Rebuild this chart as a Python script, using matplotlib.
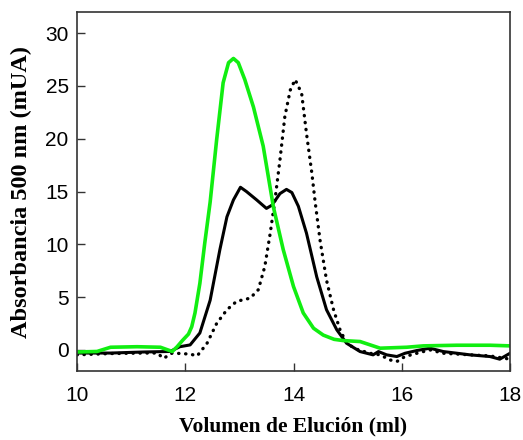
import matplotlib
matplotlib.use("Agg")
import matplotlib.pyplot as plt

# Green trace
green_x = [10.0, 10.37, 10.62, 11.11, 11.54, 11.76, 11.85, 11.95, 12.06, 12.12, 12.18, 12.27,
           12.36, 12.46, 12.58, 12.70, 12.80, 12.89, 12.98, 13.10, 13.26, 13.44, 13.63, 13.81,
           14.0, 14.18, 14.37, 14.55, 14.75, 14.92, 15.23, 15.60, 16.09, 16.40, 17.02, 17.63, 18.0]
green_y = [-0.2, -0.15, 0.25, 0.3, 0.25, -0.15, 0.3, 0.9, 1.5, 2.2, 3.5, 6.3,
           10.1, 14.0, 19.9, 25.3, 27.2, 27.6, 27.2, 25.6, 23.0, 19.3, 13.5, 9.5,
           6.0, 3.5, 2.05, 1.4, 1.0, 0.88, 0.79, 0.16, 0.25, 0.38, 0.44, 0.44, 0.38]

# Solid black trace
solid_x = [10.0, 10.62, 11.23, 11.72, 11.90, 12.09, 12.27, 12.46, 12.64, 12.77, 12.89, 13.02,
           13.13, 13.32, 13.50, 13.60, 13.75, 13.87, 13.97, 14.09, 14.24, 14.43, 14.61, 14.80,
           14.98, 15.23, 15.47, 15.57, 15.72, 15.91, 16.06, 16.28, 16.52, 16.77, 17.26, 17.63,
           17.81, 18.0]
solid_y = [-0.3, -0.3, -0.2, -0.15, 0.3, 0.47, 1.6, 4.7, 9.5, 12.6, 14.2, 15.4,
           15.0, 14.2, 13.4, 13.7, 14.8, 15.2, 14.9, 13.6, 11.05, 6.9, 3.8, 1.9,
           0.63, -0.16, -0.47, -0.16, -0.47, -0.63, -0.32, -0.06, 0.16, -0.16, -0.47, -0.63,
           -0.88, -0.32]

# Dotted black trace
dot_x = [10.0, 10.6, 11.23, 11.48, 11.60, 11.76, 12.09, 12.22, 12.40, 12.58, 12.77, 12.95,
         13.20, 13.35, 13.47, 13.57, 13.66, 13.75, 13.84, 13.94, 14.03, 14.15, 14.24, 14.34,
         14.40, 14.49, 14.61, 14.74, 14.86, 14.95, 15.05, 15.17, 15.41, 15.60, 15.78, 15.91,
         16.06, 16.28, 16.52, 16.77, 17.26, 17.63, 18.0]
dot_y = [-0.47, -0.35, -0.3, -0.3, -0.8, -0.3, -0.4, -0.57, 0.6, 2.5, 3.8, 4.6,
         4.9, 5.7, 7.9, 11.05, 14.3, 18.0, 22.1, 24.6, 25.6, 24.3, 20.5, 16.7,
         14.0, 10.4, 6.6, 3.8, 1.9, 0.95, 0.4, 0.06, -0.32, -0.47, -0.95, -1.1,
         -0.63, -0.32, 0.0, -0.32, -0.47, -0.57, -0.88]

x_ticks = [10, 12, 14, 16, 18]
y_ticks = [0, 5, 10, 15, 20, 25, 30]

fig = plt.figure(figsize=(5.23, 4.40), dpi=100)
ax = fig.add_axes([77/523, 1 - 371/440, (510 - 77)/523, (371 - 12)/440])

ax.plot(solid_x, solid_y, color='black', lw=2.2, solid_joinstyle='round')
ax.plot(dot_x, dot_y, color='black', lw=2.4, linestyle=(0, (0.1, 2.0)),
        dash_capstyle='round')
ax.plot(green_x, green_y, color='#11ee11', lw=2.6, solid_joinstyle='round')

ax.set_xlim(10, 18)
ax.set_ylim(-2, 32)
ax.set_xticks(x_ticks)
ax.set_yticks(y_ticks)
ax.set_xticklabels([str(t) for t in x_ticks], family='Liberation Sans', fontsize=15)
ax.set_yticklabels([str(t) for t in y_ticks], family='Liberation Sans', fontsize=15)
ax.tick_params(axis='both', direction='in', length=6, width=1.0, color='#333333')
ax.tick_params(axis='x', pad=11)
ax.tick_params(axis='y', pad=6)
for s in ax.spines.values():
    s.set_color('#333333')
    s.set_linewidth(1.2)

ax.set_xlabel('Volumen de Elución (ml)', family='Liberation Serif', fontweight='bold',
              fontsize=15.5)
ax.set_ylabel('Absorbancia 500 nm (mUA)', family='Liberation Serif', fontweight='bold',
              fontsize=17.5)
ax.xaxis.set_label_coords(0.5, -0.128)
ax.yaxis.set_label_coords(-0.105, 0.5)

fig.savefig('out.png', dpi=100)
